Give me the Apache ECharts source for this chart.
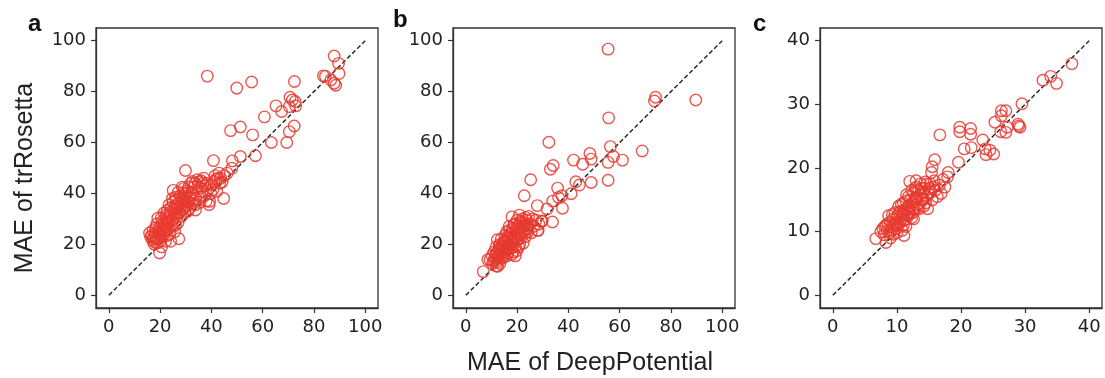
<!DOCTYPE html>
<html>
<head>
<meta charset="utf-8">
<script src="https://cdn.jsdelivr.net/npm/echarts@6/dist/echarts.min.js"></script>
<style>html,body{margin:0;padding:0;background:#fff}#c{width:1105px;height:378px}</style>
</head>
<body>
<div id="c"></div>
<script>
// ---- data (x = MAE of DeepPotential, y = MAE of trRosetta) ----
const panelA = [
  [38.4,86.1],[49.9,81.4],[55.7,83.8],[72.4,84.0],[87.9,94.0],[89.6,91.1],[83.7,86.2],[84.5,86.0],[89.8,87.1],[86.6,84.6],[87.9,83.3],[88.5,82.5],
  [60.7,70.1],[65.2,74.4],[67.4,72.2],[70.7,77.8],[71.6,76.7],[72.7,76.1],[70.4,74.1],[72.9,74.4],[72.3,66.5],[70.4,64.3],[69.4,60.0],[63.4,60.0],
  [47.5,64.7],[51.3,66.1],[56.1,63.0],[51.3,54.5],[57.2,54.8],[48.2,52.8],[40.8,52.9],[48.0,49.9],[44.8,38.0],[29.9,49.0],
  [15.9,24.4],[16.3,22.9],[16.8,23.5],[17.0,21.8],[17.5,22.6],[17.8,21.0],[18.2,24.8],[18.5,22.0],[18.9,20.5],[19.1,30.3],[19.4,25.5],[19.8,16.6],[19.9,23.3],[20.0,27.0],[20.3,21.5],
  [20.8,29.0],[21.2,24.8],[21.5,32.3],[21.7,27.5],[22.1,21.2],[22.4,30.5],[22.8,33.3],[23.0,26.0],[23.3,28.8],[23.6,31.0],[24.1,21.2],[24.3,34.5],[24.6,29.5],[24.9,27.0],[25.1,41.2],[25.0,36.5],[25.4,32.0],[25.7,25.0],
  [26.0,38.5],[26.2,30.5],[26.5,34.0],[26.8,36.0],[27.0,28.5],[27.3,22.2],[27.5,32.5],[27.8,39.0],[28.0,35.0],[28.3,31.0],[28.6,42.5],[28.8,37.5],[29.0,40.1],[29.2,34.0],[29.5,36.5],[29.8,32.5],[30.0,38.5],[30.3,35.0],
  [30.6,41.0],[31.0,36.8],[31.3,34.0],[31.6,39.0],[32.0,44.0],[32.3,36.0],[32.6,44.7],[33.3,42.5],[33.7,35.5],[34.0,38.0],[34.5,45.4],[34.8,43.0],[35.5,36.5],[35.8,42.1],[36.0,45.0],[36.5,40.8],[36.8,44.0],
  [37.2,39.0],[37.6,43.0],[38.0,37.0],[38.5,41.0],[39.1,35.6],[39.3,36.9],[39.8,40.0],[40.2,43.5],[41.0,44.7],[41.5,47.0],[42.1,40.8],[42.5,46.0],[43.0,48.0],[43.6,46.0],[44.2,44.5],[45.0,47.0],[46.2,48.0],
  [17.2,25.5],[17.6,20.2],[18.0,23.0],[18.3,26.5],[18.7,28.0],[19.0,22.5],[19.6,24.0],[20.1,25.0],[20.5,30.5],[20.9,23.0],[21.0,26.0],[21.4,28.5],[21.9,25.5],[22.2,31.5],[22.6,27.0],[23.1,29.8],[23.5,35.5],[23.9,32.5],[24.4,27.5],[24.8,38.0],
  [25.2,30.0],[25.6,33.5],[25.9,35.0],[26.3,37.5],[26.7,32.0],[27.1,40.5],[27.6,34.5],[28.1,36.8],[28.5,33.5],[28.9,38.8],[29.3,42.0],[29.7,35.5],[30.1,40.0],[30.5,37.0],[31.2,42.5],[31.8,38.0],[32.4,40.5],[32.9,37.0],[33.5,44.0],
  [35.3,44.5],[36.2,38.5],[37.0,46.0],[38.2,44.0],[40.6,41.5],[41.8,45.5],[43.3,44.0],[23.8,24.0],[26.0,27.5],[20.6,19.0],[22.8,23.5],[30.8,33.0],[33.8,33.5]
];
const panelB = [
  [55.5,96.7],[74.0,77.8],[73.6,76.3],[89.7,76.7],[55.7,69.7],[32.4,60.1],[56.4,58.4],[48.4,55.7],[48.9,53.5],[42.0,53.1],[45.6,51.5],[57.6,54.5],[61.1,53.1],[55.5,52.2],[68.8,56.7],
  [34.1,51.0],[33.0,49.5],[25.3,45.4],[42.9,44.6],[44.3,43.3],[48.9,44.3],[55.5,45.2],[22.8,39.1],[35.8,42.1],[36.2,38.4],[37.5,39.1],[41.1,39.9],[37.7,34.2],[33.9,37.0],[27.9,35.2],[31.7,33.9],[33.8,28.8],[28.2,25.5],[29.8,29.2],
  [6.8,9.3],[8.6,14.0],[12.4,11.4],
  [9.5,14.0],[10.2,15.5],[10.8,13.5],[11.0,17.0],[11.5,15.0],[11.8,19.0],[12.0,16.5],[12.3,21.8],[12.6,14.5],[12.9,18.0],[13.2,20.0],[13.5,16.0],
  [13.8,22.0],[14.0,17.5],[14.3,19.5],[14.6,15.0],[14.9,21.0],[15.2,23.5],[15.5,18.5],[15.8,20.5],[16.0,25.0],[16.3,16.5],[16.6,22.5],[16.9,27.0],[17.2,19.5],[17.5,24.0],[17.8,21.0],[18.0,30.8],[18.2,26.0],[18.5,17.0],[18.8,23.0],[19.0,28.0],
  [19.3,15.5],[19.5,25.0],[19.8,21.5],[20.0,29.5],[20.3,24.0],[20.6,19.0],[20.9,31.5],[21.2,26.5],[21.5,22.5],[21.8,28.5],[22.1,30.0],[22.4,20.5],[22.7,25.5],[23.0,27.5],[23.3,23.0],[23.6,29.5],[24.0,26.0],[24.5,31.0],
  [25.0,28.0],[25.5,24.5],[26.0,30.0],[26.5,27.0],[27.3,29.5],[28.0,25.5],[28.5,28.0],[29.5,29.0],
  [10.5,12.5],[11.2,14.0],[11.7,16.0],[12.2,13.2],[12.8,15.5],[13.0,19.0],[13.6,18.0],[14.1,14.5],[14.5,20.5],[14.8,17.0],[15.1,16.0],[15.4,21.5],[15.9,19.0],[16.2,23.0],[16.5,18.0],[16.8,20.0],[17.0,25.5],[17.4,22.0],[17.7,18.5],[18.1,24.5],
  [18.4,20.0],[18.7,27.5],[19.1,22.5],[19.4,19.0],[19.7,26.0],[20.2,27.0],[20.5,22.0],[20.8,25.0],[21.3,29.0],[21.7,24.0],[22.0,27.0],[22.5,28.5],[22.9,24.5],[23.4,30.5],[23.9,27.5],[24.3,25.0],[16.0,15.5],[18.0,16.0],[19.9,17.5],[21.0,20.0],[13.3,12.5],[11.9,11.5]
];
const panelC = [
  [37.3,36.4],[32.8,33.8],[34.0,34.4],[34.9,33.3],[29.5,30.1],[26.3,29.0],[27.0,29.0],[26.3,28.2],[25.3,27.2],[27.2,26.4],[26.2,25.7],[27.0,25.6],[28.9,26.9],[29.2,26.4],[29.0,26.6],
  [19.8,26.4],[19.8,25.7],[21.5,26.2],[21.5,25.3],[16.7,25.2],[20.5,23.0],[21.6,23.2],[23.4,24.4],[23.8,23.0],[24.5,22.8],[23.9,22.1],[25.1,22.2],[19.6,20.9],[15.9,21.3],[15.5,20.2],[15.4,19.3],[18.0,19.3],
  [7.5,10.0],[7.8,10.5],[8.0,9.5],[8.3,11.0],[8.5,10.2],[8.7,12.5],[8.9,9.8],[9.0,11.5],[9.2,10.8],[9.4,12.0],[9.5,9.6],[9.7,13.0],[9.8,11.2],[10.0,10.5],[10.1,12.5],[10.3,14.0],[10.5,11.5],[10.6,13.2],[10.8,10.2],[10.9,12.8],
  [11.0,14.5],[11.2,11.8],[11.3,13.5],[11.5,15.8],[11.6,12.5],[11.8,14.0],[11.9,13.0],[12.0,17.9],[12.1,15.0],[12.3,12.2],[12.4,14.5],[12.6,16.0],[12.7,13.5],[12.9,15.2],[13.0,17.0],[13.2,14.2],[13.4,16.5],[13.5,13.6],[13.7,17.5],[13.9,15.0],
  [14.0,16.2],[14.2,14.0],[14.4,17.8],[14.6,15.5],[14.8,13.6],[15.0,16.8],[15.2,17.5],[15.5,15.0],[15.8,18.0],[16.0,16.5],[16.3,15.5],[16.6,17.3],[16.9,16.0],[17.2,18.2],[17.5,17.0],[17.9,18.6],
  [11.1,9.4],[8.3,8.3],[6.7,8.9],
  [8.1,10.8],[8.6,11.3],[9.1,10.2],[9.3,12.7],[9.6,11.0],[9.9,12.0],[10.2,11.0],[10.4,13.0],[10.7,12.0],[10.7,14.3],[11.0,11.0],[11.1,13.0],[11.4,14.8],[11.5,12.0],[11.7,13.6],[11.8,15.5],[12.0,12.8],[12.2,14.0],[12.3,16.5],[12.5,13.0],
  [12.8,14.8],[12.9,16.8],[13.1,15.5],[13.3,13.8],[13.6,15.8],[13.8,16.8],[14.1,15.0],[14.3,16.8],[14.5,14.5],[14.9,16.0],[15.3,16.2],[15.6,17.0],[10.0,9.8],[9.0,9.0],[12.6,12.0],[11.4,10.8],[14.7,17.5],[13.0,18.0]
];
const diagAB = [[0,0],[100,100]];
const diagC = [[0,0],[40,40]];
const ticksAB = [0,20,40,60,80,100];
const ticksC = [0,10,20,30,40];
const panelLetters = ['a','b','c'];
const xTitle = 'MAE of DeepPotential';
const yTitle = 'MAE of trRosetta';

// ---- chart ----
const chart = echarts.init(document.getElementById('c'), null, {renderer:'canvas'});
const AX = '#333';
const RED = '#e8392f';
const grids = [
  {left:96, top:28, width:282, height:280},
  {left:453, top:28, width:282, height:280},
  {left:820, top:28, width:282, height:280}
];
function axis(idx, min, max, ticks){
  return {
    gridIndex: idx, type:'value', min:min, max:max,
    axisLine:{show:true, onZero:false, lineStyle:{color:AX, width:1.3}},
    axisTick:{show:true, inside:false, length:5, lineStyle:{color:AX, width:1.2}, customValues:ticks},
    axisLabel:{show:true, customValues:ticks, margin:10, fontFamily:'DejaVu Sans', fontSize:18, color:'#222'},
    splitLine:{show:false}
  };
}
const xAxes = [axis(0,-5,105,ticksAB), axis(1,-5,105,ticksAB), axis(2,-2,42,ticksC)];
const yAxes = [axis(0,-5,105,ticksAB), axis(1,-5,105,ticksAB), axis(2,-2,42,ticksC)];
const series = [];
[panelA, panelB, panelC].forEach((d,i)=>{
  series.push({
    type:'line', xAxisIndex:i, yAxisIndex:i, data: i<2?diagAB:diagC,
    symbol:'none', silent:true, z:1,
    lineStyle:{color:'#2a2a2a', width:1.5, type:[4.5,2.5]}
  });
  series.push({
    type:'scatter', xAxisIndex:i, yAxisIndex:i, data:d,
    symbol:'circle', symbolSize:11.5, z:2,
    itemStyle:{color:'rgba(0,0,0,0)', borderColor:RED, borderWidth:1.4, opacity:0.85}
  });
});
chart.setOption({
  backgroundColor:'#fff',
  animation:false,
  grid: grids.map(g=>Object.assign({show:true, borderColor:AX, borderWidth:1.3, backgroundColor:'transparent'}, g)),
  xAxis: xAxes, yAxis: yAxes, series: series,
  graphic: [
    {type:'text', left:28, top:12, style:{text:panelLetters[0], font:'bold 24px "Liberation Sans", Arial', fill:'#111'}},
    {type:'text', left:393, top:8, style:{text:panelLetters[1], font:'bold 24px "Liberation Sans", Arial', fill:'#111'}},
    {type:'text', left:753, top:12, style:{text:panelLetters[2], font:'bold 24px "Liberation Sans", Arial', fill:'#111'}},
    {type:'text', x:590, y:363, style:{text:xTitle, font:'25px "Liberation Sans", Arial', fill:'#222', align:'center', verticalAlign:'middle'}},
    {type:'text', x:25, y:178, rotation:Math.PI/2, style:{text:yTitle, font:'25px "Liberation Sans", Arial', fill:'#222', align:'center', verticalAlign:'middle'}}
  ]
});
</script>
</body>
</html>
